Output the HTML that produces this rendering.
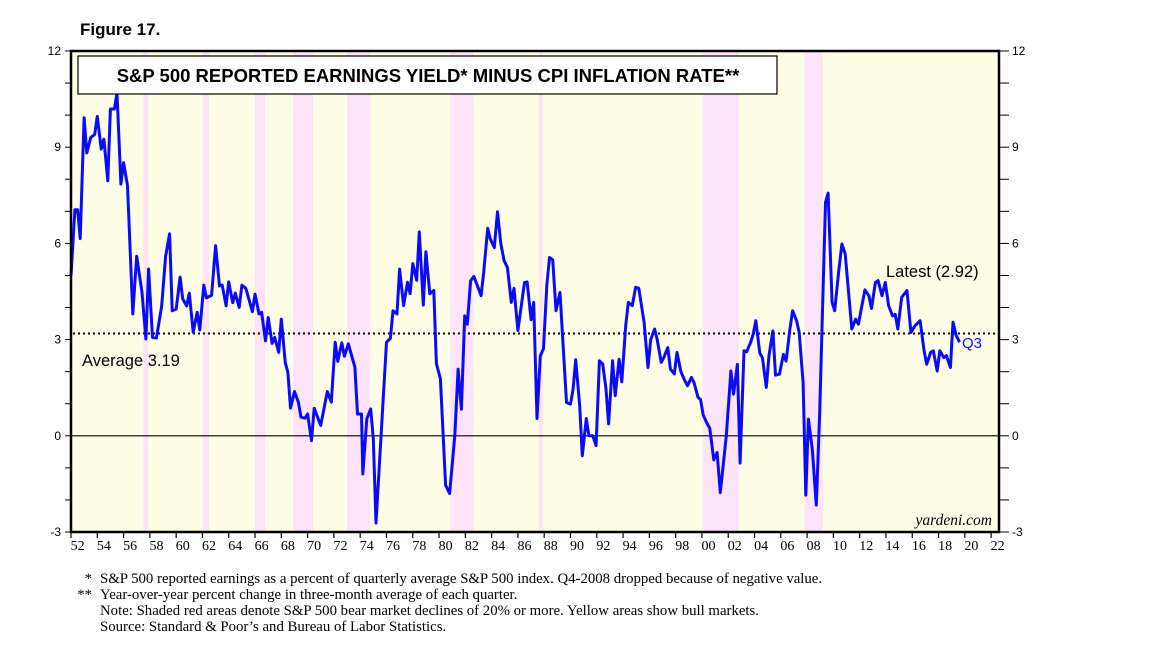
<!DOCTYPE html>
<html><head><meta charset="utf-8">
<style>
body{margin:0;background:#fff;width:1152px;height:648px;overflow:hidden;font-family:"Liberation Sans",sans-serif;}
#fig{position:absolute;left:80px;top:20px;font-size:17px;font-weight:bold;}
.fn{position:absolute;font-family:"Liberation Serif",serif;font-size:14.8px;color:#000;line-height:16px;}
.fn span{display:inline-block;width:40px;text-align:right;margin-right:8px}
</style></head><body>
<div id="fig">Figure 17.</div>
<svg id="chart" width="1152" height="648" style="position:absolute;left:0;top:0"></svg>
<div class="fn" style="left:52px;top:571px;">
<div><span>*</span>S&amp;P 500 reported earnings as a percent of quarterly average S&amp;P 500 index. Q4-2008 dropped because of negative value.</div>
<div><span>**</span>Year-over-year percent change in three-month average of each quarter.</div>
<div><span></span>Note: Shaded red areas denote S&amp;P 500 bear market declines of 20% or more. Yellow areas show bull markets.</div>
<div><span></span>Source: Standard &amp; Poor’s and Bureau of Labor Statistics.</div>
</div>
<script>
const years=[1952.0,1952.3,1952.5,1952.7,1953.0,1953.2,1953.5,1953.8,1954.0,1954.3,1954.5,1954.8,1955.0,1955.3,1955.5,1955.8,1956.0,1956.3,1956.7,1957.0,1957.4,1957.7,1957.9,1958.2,1958.5,1958.9,1959.2,1959.5,1959.7,1960.0,1960.3,1960.5,1960.8,1961.0,1961.3,1961.6,1961.8,1962.1,1962.3,1962.7,1963.0,1963.3,1963.5,1963.8,1964.0,1964.3,1964.5,1964.8,1965.0,1965.3,1965.8,1966.0,1966.3,1966.5,1966.8,1967.0,1967.3,1967.5,1967.8,1968.0,1968.3,1968.5,1968.7,1969.0,1969.3,1969.5,1969.8,1970.0,1970.3,1970.5,1971.0,1971.5,1971.8,1972.1,1972.3,1972.6,1972.8,1973.1,1973.6,1973.8,1974.1,1974.2,1974.5,1974.8,1975.0,1975.2,1976.0,1976.3,1976.5,1976.8,1977.0,1977.3,1977.6,1977.8,1978.0,1978.3,1978.5,1978.8,1979.0,1979.3,1979.6,1979.8,1980.1,1980.5,1980.8,1981.2,1981.45,1981.7,1981.95,1982.15,1982.4,1982.65,1983.2,1983.4,1983.7,1983.9,1984.2,1984.45,1984.7,1984.95,1985.2,1985.5,1985.7,1986.0,1986.5,1986.7,1987.0,1987.2,1987.45,1987.7,1987.95,1988.2,1988.4,1988.65,1988.9,1989.2,1989.7,1990.0,1990.2,1990.4,1990.7,1990.9,1991.2,1991.4,1991.7,1991.95,1992.2,1992.45,1992.7,1992.9,1993.2,1993.4,1993.7,1993.9,1994.2,1994.4,1994.7,1994.95,1995.2,1995.6,1995.9,1996.1,1996.4,1996.6,1996.9,1997.1,1997.4,1997.6,1997.9,1998.1,1998.4,1998.7,1998.9,1999.2,1999.4,1999.7,1999.9,2000.1,2000.35,2000.6,2000.9,2001.15,2001.4,2001.85,2002.2,2002.4,2002.7,2002.9,2003.2,2003.4,2003.7,2003.9,2004.1,2004.4,2004.6,2004.9,2005.1,2005.4,2005.6,2005.9,2006.2,2006.4,2006.7,2006.9,2007.2,2007.4,2007.7,2007.9,2008.1,2008.4,2008.7,2008.95,2009.4,2009.6,2009.9,2010.1,2010.4,2010.65,2010.9,2011.4,2011.7,2011.9,2012.4,2012.7,2012.9,2013.2,2013.4,2013.7,2013.95,2014.2,2014.5,2014.7,2014.9,2015.2,2015.6,2015.9,2016.2,2016.6,2016.9,2017.1,2017.4,2017.6,2017.9,2018.1,2018.4,2018.6,2018.9,2019.1,2019.35,2019.6];
const values=[4.99,7.05,7.05,6.15,9.92,8.82,9.3,9.4,9.96,8.94,9.25,7.95,10.19,10.19,10.7,7.85,8.52,7.8,3.8,5.6,4.47,3.02,5.2,3.07,3.05,4.05,5.6,6.3,3.9,3.95,4.95,4.27,4.05,4.45,3.23,3.85,3.3,4.7,4.3,4.38,5.93,4.67,4.7,4.05,4.8,4.15,4.45,4.0,4.7,4.6,3.87,4.42,3.8,3.85,2.96,3.69,2.88,3.07,2.6,3.64,2.28,1.97,0.86,1.38,1.05,0.58,0.55,0.68,-0.15,0.86,0.32,1.38,1.05,2.92,2.32,2.9,2.48,2.87,2.14,0.68,0.68,-1.19,0.53,0.84,-0.1,-2.72,2.92,3.04,3.9,3.8,5.2,4.06,4.79,4.43,5.37,4.85,6.36,4.08,5.74,4.43,4.53,2.25,1.78,-1.54,-1.8,0,2.08,0.83,3.74,3.48,4.83,4.97,4.37,5.1,6.47,6.14,5.87,6.99,6.0,5.46,5.25,4.16,4.6,3.28,4.78,4.8,3.62,4.16,0.54,2.49,2.72,4.68,5.56,5.49,3.9,4.47,1.04,0.99,1.46,2.37,0.94,-0.62,0.54,0,0,-0.31,2.34,2.24,1.46,0.37,2.34,1.25,2.39,1.68,3.43,4.16,4.06,4.63,4.6,3.54,2.13,3.0,3.33,3.0,2.29,2.44,2.75,2.08,1.93,2.6,2.0,1.72,1.56,1.82,1.66,1.2,1.13,0.65,0.42,0.23,-0.75,-0.52,-1.77,0,2.02,1.3,2.23,-0.85,2.65,2.62,2.91,3.17,3.59,2.58,2.44,1.51,2.5,3.27,1.89,1.92,2.54,2.33,3.35,3.9,3.59,3.22,1.66,-1.85,0.52,-0.42,-2.16,0.63,7.28,7.57,4.16,3.9,5.1,5.98,5.67,3.33,3.64,3.48,4.55,4.37,3.97,4.78,4.84,4.37,4.78,4.06,3.74,3.79,3.33,4.32,4.53,3.22,3.43,3.59,2.65,2.23,2.6,2.65,2.02,2.65,2.44,2.5,2.13,3.54,3.12,2.92];
const bearStart=[1957.5,1962.0,1966.0,1968.9,1973.0,1980.85,1987.6,2000.1,2007.8];
const bearEnd=[1957.9,1962.5,1966.8,1970.4,1974.75,1982.6,1987.9,2002.8,2009.2];
const yTicks=[-3,0,3,6,9,12];
const xLabels=["52","54","56","58","60","62","64","66","68","70","72","74","76","78","80","82","84","86","88","90","92","94","96","98","00","02","04","06","08","10","12","14","16","18","20","22"];
const average=[3.19];
const latest=[2.92];

const L=71,R=999,T=51,B=532,Y0=1952,Y1=2022.6,V0=-3,V1=12;
const xs=y=>L+(y-Y0)/(Y1-Y0)*(R-L);
const ys=v=>B-(v-V0)/(V1-V0)*(B-T);
const svg=document.getElementById('chart');
const NS='http://www.w3.org/2000/svg';
function mk(tag,attrs,parent){const e=document.createElementNS(NS,tag);for(const k in attrs)e.setAttribute(k,attrs[k]);(parent||svg).appendChild(e);return e;}

const bg=mk('rect',{x:L,y:T,width:R-L,height:B-T,fill:'#fefee6'});


for(let i=0;i<bearStart.length;i++){
  const r=mk('rect',{x:xs(bearStart[i]),y:T,width:xs(bearEnd[i])-xs(bearStart[i]),height:B-T,fill:'#fde4f8'});
  
  
}
const z=mk('line',{x1:L,x2:R,y1:ys(0),y2:ys(0),stroke:'#000','stroke-width':1.2});


const av=mk('line',{x1:L+2,x2:R-4,y1:ys(average[0]),y2:ys(average[0]),stroke:'#000','stroke-width':2,'stroke-dasharray':'2,3'});


for(let v=V0;v<=V1;v++){
  const t1=mk('line',{x1:L-6,x2:L,y1:ys(v),y2:ys(v),stroke:'#000','stroke-width':1});
  
  
  const t2=mk('line',{x1:R,x2:R+10,y1:ys(v),y2:ys(v),stroke:'#000','stroke-width':1});
  
  
}
yTicks.forEach(v=>{
  const a=mk('text',{x:L-10,y:ys(v)+4,'text-anchor':'end','font-size':12,fill:'#000'});a.textContent=v;
  
  
  const b=mk('text',{x:R+13,y:ys(v)+4,'text-anchor':'start','font-size':12,fill:'#000'});b.textContent=v;
  
  
});
xLabels.forEach((lb,i)=>{
  const yr=Y0+i*2;
  const t=mk('line',{x1:xs(yr),x2:xs(yr),y1:B,y2:B+6,stroke:'#000','stroke-width':1.2});
  
  
  const tx=mk('text',{x:xs(yr+0.5),y:B+18,'text-anchor':'middle','font-size':14,'font-family':'Liberation Serif, serif',fill:'#000'});tx.textContent=lb;
  
  
});
let d='';years.forEach((y,i)=>{d+=(i?'L':'M')+xs(y).toFixed(1)+','+ys(values[i]).toFixed(1);});
const p=mk('path',{d:d,fill:'none',stroke:'#0a0aff','stroke-width':3,'stroke-linejoin':'round'});


const fr=mk('rect',{x:L,y:T,width:R-L,height:B-T,fill:'none',stroke:'#000','stroke-width':2.5});


const tb=mk('rect',{x:78,y:56,width:699,height:38,fill:'#fff',stroke:'#000','stroke-width':1.2});


const tt=mk('text',{x:428,y:82,'text-anchor':'middle','font-size':18.5,'font-weight':'bold',fill:'#000'});
tt.textContent='S&P 500 REPORTED EARNINGS YIELD* MINUS CPI INFLATION RATE**';


const at=mk('text',{x:82,y:366,'font-size':16.5,fill:'#000'});at.textContent='Average '+average[0];


const lt=mk('text',{x:886,y:277,'font-size':16.5,fill:'#000'});lt.textContent='Latest ('+latest[0].toFixed(2)+')';


const q=mk('text',{x:962,y:348,'font-size':15,fill:'#0a0aff'});q.textContent='Q3';


const yd=mk('text',{x:992,y:525,'text-anchor':'end','font-size':15.5,'font-style':'italic','font-family':'Liberation Serif, serif',fill:'#000'});yd.textContent='yardeni.com';


</script>
</body></html>
